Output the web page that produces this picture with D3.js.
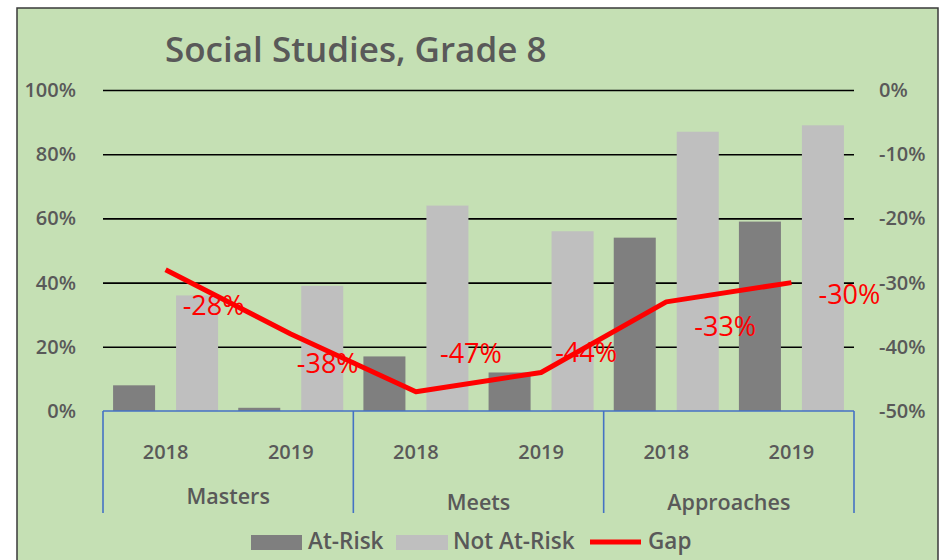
<!DOCTYPE html>
<html>

<head>
    <meta charset="utf-8">
    <script src="https://d3js.org/d3.v7.min.js"></script>
    <style>
        body {
            margin: 0;
            background-color: #ffffff;
            font-family: 'Open Sans', sans-serif;
        }
    </style>
    <title>Social Studies, Grade 8</title>
</head>

<body>
    <svg id="chart" width="945" height="560"></svg>

    <script>
        // data
        let groups = ["Masters", "Meets", "Approaches"];
        let years = ["2018", "2019"];
        let atRisk = [0.08, 0.01, 0.17, 0.12, 0.54, 0.59];
        let notAtRisk = [0.36, 0.39, 0.64, 0.56, 0.87, 0.89];
        let gap = [-0.28, -0.38, -0.47, -0.44, -0.33, -0.30];
        let leftTicks = [0, 0.2, 0.4, 0.6, 0.8, 1];
        let rightTicks = [-0.5, -0.4, -0.3, -0.2, -0.1, 0];
        let seriesNames = ["At-Risk", "Not At-Risk"];

        // layout only: where the gap labels sit relative to their point
        let labelNudge = [[48, 35], [37, 29], [55, -39], [45, -20], [59, 24], [58, 11]];

        var canvas = d3.select("#chart");
        var plotLeft = 103, plotRight = 854, plotTop = 90, plotBottom = 411;
        var grey = "#595959";
        var labelWeight = 600;

        // plain hyphen for negatives, like the original
        var pct = d3.formatLocale({
            decimal: ".", thousands: ",", grouping: [3],
            currency: ["$", ""], minus: "-"
        }).format(".0%");

        // chart area + border
        canvas.append("rect")
            .attr("x", 17).attr("y", 8)
            .attr("width", 921).attr("height", 600)
            .style("fill", "#c5e0b4")
            .style("stroke", "#3a3a3a")
            .style("stroke-width", "1.5px");

        canvas.append("text")
            .attr("x", 165).attr("y", 62)
            .style("font-size", "35px")
            .style("font-weight", labelWeight)
            .style("fill", grey)
            .text("Social Studies, Grade 8");

        // one band per (level, year) pair
        var cats = [];
        groups.forEach(function (g) {
            years.forEach(function (y) {
                cats.push(g + " " + y);
            });
        });

        var xScale = d3.scaleBand()
            .domain(cats)
            .range([plotLeft, plotRight])
            .padding(0);

        var xInner = d3.scaleBand()
            .domain(seriesNames)
            .range([0, xScale.bandwidth()])
            .paddingInner(0.333)
            .paddingOuter(0.16);

        var yScale = d3.scaleLinear().domain([0, 1]).range([plotBottom, plotTop]);
        var yGap = d3.scaleLinear().domain([-0.5, 0]).range([plotBottom, plotTop]);

        // gridlines
        var grid = canvas.append("g")
            .attr("transform", "translate(" + plotLeft + ",0)")
            .call(d3.axisLeft(yScale)
                .tickValues(leftTicks.filter(function (d) { return d > 0; }))
                .tickSize(-(plotRight - plotLeft))
                .tickFormat(""));
        grid.select(".domain").remove();
        grid.selectAll("line")
            .style("stroke", "#000000")
            .style("stroke-width", "1.6px");

        // left axis labels
        var yAxisL = canvas.append("g")
            .attr("transform", "translate(76,0)")
            .call(d3.axisLeft(yScale)
                .tickValues(leftTicks)
                .tickSize(0)
                .tickPadding(0)
                .tickFormat(pct));

        // right axis labels
        var yAxisR = canvas.append("g")
            .attr("transform", "translate(879,0)")
            .call(d3.axisRight(yGap)
                .tickValues(rightTicks)
                .tickSize(0)
                .tickPadding(0)
                .tickFormat(pct));

        [yAxisL, yAxisR].forEach(function (ax) {
            ax.select(".domain").remove();
            ax.selectAll("text")
                .style("font-family", "'Open Sans', sans-serif")
                .style("font-size", "20px")
                .style("font-weight", labelWeight)
                .style("fill", grey);
        });

        // bars
        var barData = [];
        cats.forEach(function (c, i) {
            barData.push({ cat: c, series: "At-Risk", value: atRisk[i] });
            barData.push({ cat: c, series: "Not At-Risk", value: notAtRisk[i] });
        });
        var colors = d3.scaleOrdinal().domain(seriesNames).range(["#7f7f7f", "#bfbfbf"]);

        canvas.append("g").selectAll("rect")
            .data(barData)
            .enter()
            .append("rect")
            .attr("x", function (d) { return xScale(d.cat) + xInner(d.series); })
            .attr("y", function (d) { return yScale(d.value); })
            .attr("width", xInner.bandwidth())
            .attr("height", function (d) { return yScale(0) - yScale(d.value); })
            .style("fill", function (d) { return colors(d.series); });

        // category axis (blue lines)
        var axisG = canvas.append("g");
        axisG.append("line")
            .attr("x1", plotLeft).attr("x2", plotRight)
            .attr("y1", yScale(0)).attr("y2", yScale(0));
        d3.range(groups.length + 1).forEach(function (i) {
            var xx = i < groups.length ? xScale(cats[i * 2]) : plotRight;
            axisG.append("line")
                .attr("x1", xx).attr("x2", xx)
                .attr("y1", yScale(0)).attr("y2", 513);
        });
        axisG.selectAll("line")
            .style("stroke", "#4472c4")
            .style("stroke-width", "1.6px");

        canvas.append("g").selectAll("text")
            .data(cats)
            .enter()
            .append("text")
            .attr("x", function (d) { return xScale(d) + xScale.bandwidth() / 2; })
            .attr("y", 459)
            .attr("text-anchor", "middle")
            .style("font-size", "20px")
            .style("font-weight", labelWeight)
            .style("fill", grey)
            .text(function (d) { return d.split(" ")[1]; });

        canvas.append("g").selectAll("text")
            .data(groups)
            .enter()
            .append("text")
            .attr("x", function (d) {
                return xScale(d + " " + years[0]) + xScale.bandwidth();
            })
            .attr("y", function (d, i) { return i === 0 ? 504 : 510; })
            .attr("text-anchor", "middle")
            .style("font-size", "21.5px")
            .style("font-weight", labelWeight)
            .style("fill", grey)
            .text(function (d) { return d; });

        // gap line
        var line = d3.line()
            .x(function (d, i) { return xScale(cats[i]) + xScale.bandwidth() / 2; })
            .y(function (d) { return yGap(d); });

        canvas.append("path")
            .datum(gap)
            .attr("d", line)
            .style("fill", "none")
            .style("stroke", "#ff0000")
            .style("stroke-width", "5px")
            .style("stroke-linejoin", "round");

        canvas.append("g").selectAll("text")
            .data(gap)
            .enter()
            .append("text")
            .attr("x", function (d, i) {
                return xScale(cats[i]) + xScale.bandwidth() / 2 + labelNudge[i][0];
            })
            .attr("y", function (d, i) { return yGap(d) + labelNudge[i][1] + 10; })
            .attr("text-anchor", "middle")
            .style("font-size", "27px")
            .style("font-weight", 500)
            .style("fill", "#ff0000")
            .text(function (d) { return pct(d); });

        // legend
        var legend = canvas.append("g");
        legend.append("rect")
            .attr("x", 251).attr("y", 535).attr("width", 51).attr("height", 15)
            .style("fill", colors("At-Risk"));
        legend.append("text").attr("x", 308).attr("y", 549).text("At-Risk");
        legend.append("rect")
            .attr("x", 396).attr("y", 535).attr("width", 52).attr("height", 15)
            .style("fill", colors("Not At-Risk"));
        legend.append("text").attr("x", 453).attr("y", 549).text("Not At-Risk");
        legend.append("line")
            .attr("x1", 590).attr("x2", 641).attr("y1", 542).attr("y2", 542)
            .style("stroke", "#ff0000")
            .style("stroke-width", "5px");
        legend.append("text").attr("x", 648).attr("y", 549).text("Gap");
        legend.selectAll("text")
            .style("font-size", "22.5px")
            .style("font-weight", labelWeight)
            .style("fill", grey);
    </script>
</body>

</html>
